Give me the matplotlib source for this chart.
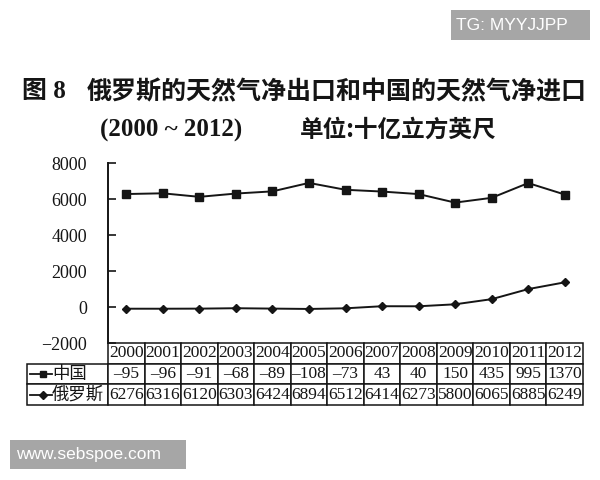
import matplotlib.pyplot as plt
from matplotlib.lines import Line2D
from matplotlib.patches import Rectangle
from matplotlib.table import Table

years = ["2000", "2001", "2002", "2003", "2004", "2005", "2006",
         "2007", "2008", "2009", "2010", "2011", "2012"]
china = [-95, -96, -91, -68, -89, -108, -73, 43, 40, 150, 435, 995, 1370]
russia = [6276, 6316, 6120, 6303, 6424, 6894, 6512, 6414, 6273, 5800, 6065, 6885, 6249]
row_labels = ["中国", "俄罗斯"]
yticks = [-2000, 0, 2000, 4000, 6000, 8000]

SERIF = ["Liberation Serif", "Noto Sans CJK SC"]
CJK = ["Noto Sans CJK SC", "DejaVu Sans"]
INK = "#151515"

W, H = 600, 480
fig = plt.figure(figsize=(6, 4.8), dpi=100)
fig.patch.set_facecolor("white")

# axes box in pixel terms of the reference
x0, x1, ytop, ybot = 108, 583, 163, 343
ax = fig.add_axes([x0 / W, 1 - ybot / H, (x1 - x0) / W, (ybot - ytop) / H])
x = list(range(len(years)))

# the scan draws squares on the upper line and diamonds on the lower one
ax.plot(x, russia, color=INK, lw=1.4, marker="s", ms=5.5)
ax.plot(x, china, color=INK, lw=1.4, marker="D", ms=4.5)

ax.set_xlim(-0.5, len(years) - 0.5)
ax.set_ylim(-2000, 8000)
ax.set_yticks(yticks)
ax.set_yticklabels([str(v).replace("-", "\u2212") for v in yticks],
                   fontfamily=SERIF, fontsize=13, color=INK)
ax.tick_params(axis="y", direction="in", length=6, width=1.2, pad=15, colors=INK)
ax.set_xticks([])
for s in ["top", "right", "bottom"]:
    ax.spines[s].set_visible(False)
ax.spines["left"].set_linewidth(1.4)
ax.spines["left"].set_color(INK)

# data table below the plot
cell_text = [[str(v).replace("-", "\u2013") for v in china],
             [str(v) for v in russia]]
label_w = (x0 - 27) / (x1 - x0)
tab_h = (405 - ybot) / (ybot - ytop)
row_h = tab_h / 3
col_w = 1 / len(years)
tab = Table(ax, bbox=[-label_w, -tab_h, 1 + label_w, tab_h])
for j, yr in enumerate(years):
    tab.add_cell(0, j + 1, col_w, row_h, text=yr, loc="center")
for i, row in enumerate(cell_text):
    tab.add_cell(i + 1, 0, label_w, row_h, text="", loc="center")
    for j, val in enumerate(row):
        tab.add_cell(i + 1, j + 1, col_w, row_h, text=val, loc="center")
tab.auto_set_font_size(False)
for (r, c), cell in tab.get_celld().items():
    cell.set_edgecolor(INK)
    cell.set_linewidth(1.1)
    cell.PAD = 0.02
    cell.get_text().set_fontfamily(SERIF)
    cell.get_text().set_fontsize(12.5)
    cell.get_text().set_color(INK)
ax.add_table(tab)

# row labels with their legend glyphs
px = 1 / (x1 - x0)
for i, (lab, mk) in enumerate(zip(row_labels, ["s", "D"])):
    yc = -row_h * (1.5 + i)
    ax.add_line(Line2D([-label_w + 3 * px, -label_w + 16 * px, -label_w + 25 * px],
                       [yc, yc, yc], transform=ax.transAxes, color=INK, lw=1.3,
                       marker=mk, ms=4, markevery=[1], clip_on=False))
    ax.text(-label_w + 25 * px, yc, lab, transform=ax.transAxes, ha="left",
            va="center", fontfamily=CJK, fontsize=12.5, color=INK)

# title
fig.text(22 / W, 1 - 92 / H, "图 8", fontfamily=SERIF, fontsize=18,
         fontweight="bold", va="center", ha="left", color=INK)
fig.text(87 / W, 1 - 92 / H, "俄罗斯的天然气净出口和中国的天然气净进口",
         fontfamily=CJK, fontsize=18, fontweight="bold", va="center",
         ha="left", color=INK)
fig.text(100 / W, 1 - 130 / H, "(2000 ~ 2012)", fontfamily=SERIF,
         fontsize=18, fontweight="bold", va="center", ha="left", color=INK)
fig.text(300 / W, 1 - 130 / H, "单位:十亿立方英尺", fontfamily=CJK,
         fontsize=17, fontweight="bold", va="center", ha="left", color=INK)

# watermarks
for (bx, by, bw, bh), txt, tx in [((451, 10, 139, 30), "TG: MYYJJPP", 456),
                                   ((10, 440, 176, 29), "www.sebspoe.com", 16)]:
    fig.patches.append(Rectangle((bx / W, 1 - (by + bh) / H), bw / W, bh / H,
                                 transform=fig.transFigure, facecolor="#a6a6a6",
                                 edgecolor="none"))
    fig.text(tx / W, 1 - (by + bh / 2) / H, txt, fontfamily="Liberation Sans",
             fontsize=12.5, color="white", va="center", ha="left")

fig.savefig("out.png", dpi=100)
